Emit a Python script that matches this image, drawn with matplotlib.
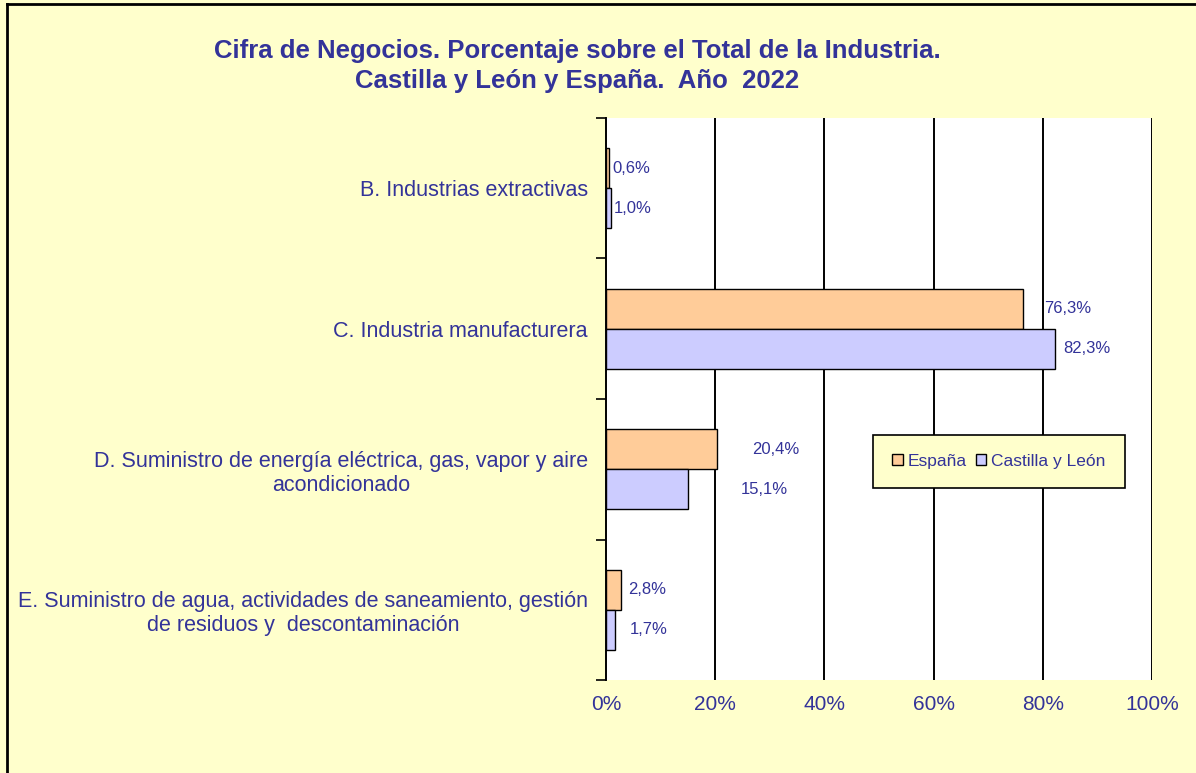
import matplotlib
matplotlib.use("Agg")
import matplotlib.pyplot as plt
from matplotlib.lines import Line2D
import numpy as np

categories = [
    "B. Industrias extractivas",
    "C. Industria manufacturera",
    "D. Suministro de energía eléctrica, gas, vapor y aire\nacondicionado",
    "E. Suministro de agua, actividades de saneamiento, gestión\nde residuos y  descontaminación",
]
espana = [0.6, 76.3, 20.4, 2.8]
castilla = [1.0, 82.3, 15.1, 1.7]
espana_labels = ["0,6%", "76,3%", "20,4%", "2,8%"]
castilla_labels = ["1,0%", "82,3%", "15,1%", "1,7%"]
xticks = [0, 20, 40, 60, 80, 100]
xtick_labels = ["0%", "20%", "40%", "60%", "80%", "100%"]

# label offsets from bar end, in pixels (Excel places them loosely)
espana_dx = [3, 22, 35, 7]
castilla_dx = [2, 8, 52, 14]

txt = "#333399"
bg = "#FFFFCC"
plt.rcParams['font.family'] = ['Liberation Sans', 'DejaVu Sans']

fig = plt.figure(figsize=(11.96, 7.73), dpi=100, facecolor=bg)
ax = fig.add_axes([606/1196, 1-680/773, 546/1196, (680-118)/773])
ax.set_facecolor("white")

y = np.arange(len(categories))
h = 0.285
ax.barh(y - h/2, espana, height=h, color="#FFCC99", edgecolor="black", linewidth=1, label="España", zorder=3)
ax.barh(y + h/2, castilla, height=h, color="#CCCCFF", edgecolor="black", linewidth=1, label="Castilla y León", zorder=3)

for i in range(len(categories)):
    ax.annotate(espana_labels[i], (espana[i], y[i] - h/2), xytext=(espana_dx[i]*0.72, 0),
                textcoords="offset points", va="center", ha="left", color=txt, fontsize=12)
    ax.annotate(castilla_labels[i], (castilla[i], y[i] + h/2), xytext=(castilla_dx[i]*0.72, 0),
                textcoords="offset points", va="center", ha="left", color=txt, fontsize=12)

ax.set_xlim(0, 100)
ax.set_ylim(3.5, -0.5)
ax.set_xticks(xticks)
ax.set_xticklabels(xtick_labels, color=txt, fontsize=15)
ax.tick_params(axis="x", length=0, pad=11)
for xv in xticks[1:]:
    ax.axvline(xv, color="black", linewidth=1.4, zorder=2)

ax.set_yticks(y)
ax.set_yticklabels(categories, color=txt, fontsize=15.5, multialignment="center")
ax.set_yticks(np.arange(-0.5, 4, 1), minor=True)
ax.tick_params(axis="y", which="major", length=0, pad=13)
ax.tick_params(axis="y", which="minor", length=7, width=1.2, direction="out")

for s in ["top", "right", "bottom"]:
    ax.spines[s].set_visible(False)
ax.spines["left"].set_linewidth(1.4)

leg = ax.legend(loc="upper left", bbox_to_anchor=((873-606)/546, 1-(435-118)/562), ncol=2,
                borderaxespad=0, frameon=True, fancybox=False, edgecolor="black",
                facecolor=bg, framealpha=1, fontsize=12.5, handlelength=0.6, handleheight=0.6,
                handletextpad=0.3, columnspacing=0.5, borderpad=1.1, labelcolor=txt)
leg.get_frame().set_linewidth(1.2)
leg.set_zorder(5)

fig.text(577/1196, 1-51/773, "Cifra de Negocios. Porcentaje sobre el Total de la Industria.",
         ha="center", va="center", fontsize=18.5, fontweight="bold", color=txt)
fig.text(577/1196, 1-81/773, "Castilla y León y España.  Año  2022",
         ha="center", va="center", fontsize=18.5, fontweight="bold", color=txt)

# chart frame (left and top edges visible)
fig.add_artist(Line2D([7/1196, 7/1196], [0, 1-4/773], color="black", linewidth=2, transform=fig.transFigure))
fig.add_artist(Line2D([7/1196, 1], [1-4/773, 1-4/773], color="black", linewidth=2, transform=fig.transFigure))

fig.savefig("out.png", dpi=100, facecolor=bg)
